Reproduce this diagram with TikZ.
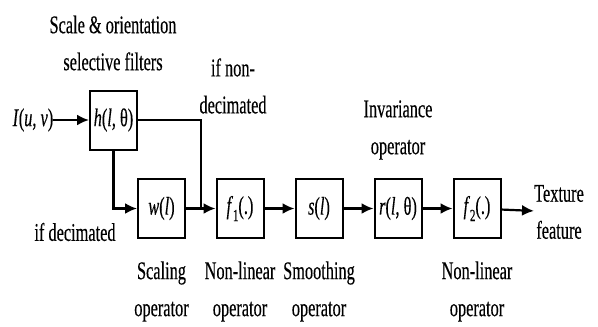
\documentclass[tikz,border=0pt]{standalone}
\usepackage{fontspec}
\setmainfont[FakeStretch=0.64,FakeBold=0.3]{Liberation Serif}
\usetikzlibrary{arrows.meta,calc}
\newcommand{\lowidx}[1]{\raisebox{-0.28em}{\fontsize{17}{17}\selectfont #1}}
\tikzset{
  blk/.style={draw, line width=2pt, minimum width=47pt, minimum height=59pt, inner sep=0pt},
  lbl/.style={align=center, inner sep=0pt},
  conn/.style={line width=2.2pt},
  arr/.style={conn, -{Latex[length=12pt,width=11pt]}},
}
\begin{document}
\begin{tikzpicture}[x=1pt, y=-1pt, font=\fontsize{25.5}{37}\selectfont]
\useasboundingbox (0,0) rectangle (598,327);
% processing blocks
\node[blk] (h)  at (113.5,120) {\textit{h}(\textit{l}, θ)};
\node[blk] (w)  at (161.5,208.5) {\textit{w}(\textit{l})};
\node[blk] (f1) at (240,208.5) {\textit{f}\lowidx{1}(.)};
\node[blk] (s)  at (319,208.5) {\textit{s}(\textit{l})};
\node[blk] (r)  at (398,208.5) {\textit{r}(\textit{l}, θ)};
\node[blk] (f2) at (477,208.5) {\textit{f}\lowidx{2}(.)};
% input and output
\node[lbl] (in)  at (33,120) {\textit{I}(\textit{u}, \textit{v})};
\node[lbl] (out) at (559,212) {Texture\\feature};
% descriptive labels
\node[lbl] (lh)  at (113,43)  {Scale \& orientation\\selective filters};
\node[lbl] (lnd) at (233,86)  {if non-\\decimated};
\node[lbl] (ld)  at (75,232)  {if decimated};
\node[lbl] (lw)  at (161.5,291.5) {Scaling\\operator};
\node[lbl] (lf1) at (240,291.5) {Non-linear\\operator};
\node[lbl] (ls)  at (319,291.5) {Smoothing\\operator};
\node[lbl] (lr)  at (398,130) {Invariance\\operator};
\node[lbl] (lf2) at (477,291.5) {Non-linear\\operator};
% connectors
\coordinate (j) at ($(w.east)!0.5!(f1.west)$);
\draw[arr] (in) -- (h);
\draw[arr] (h.south) |- (w.west);
\draw[conn] (h.east) -| (j);
\draw[arr] (w) -- (f1);
\draw[arr] (f1) -- (s);
\draw[arr] (s) -- (r);
\draw[arr] (r) -- (f2);
\draw[arr] (f2) -- (out);
\end{tikzpicture}
\end{document}
